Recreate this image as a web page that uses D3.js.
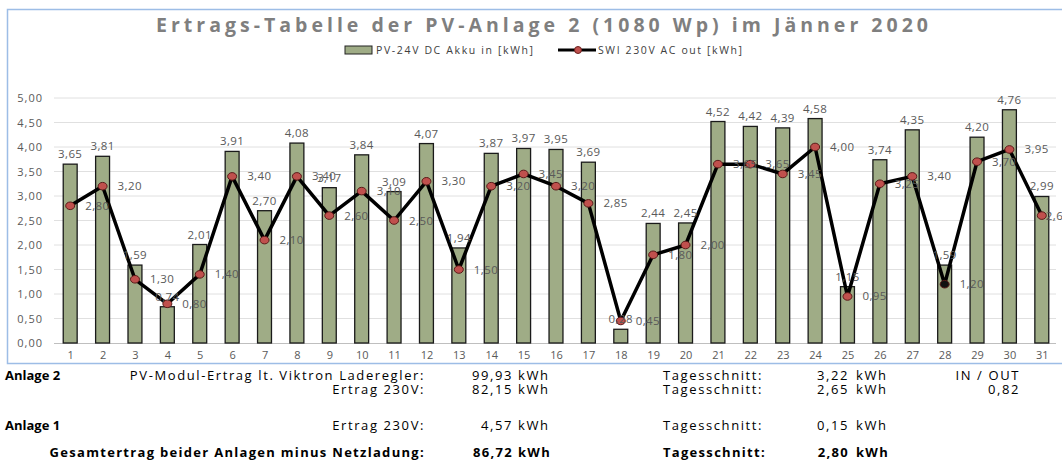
<!DOCTYPE html>
<html>
<head>
<meta charset="utf-8">
<script src="https://cdn.jsdelivr.net/npm/d3@7"></script>
<style>
  body { margin: 0; background: #fff; }
  svg { display: block; font-family: "Open Sans", sans-serif; }
</style>
</head>
<body>
<script>
// Tage im Jänner
const days = d3.range(1, 32);
// PV-24V DC Akku in [kWh]
const dcIn = [3.65, 3.81, 1.59, 0.74, 2.01, 3.91, 2.70, 4.08, 3.17, 3.84, 3.09, 4.07, 1.94, 3.87, 3.97, 3.95,
  3.69, 0.28, 2.44, 2.45, 4.52, 4.42, 4.39, 4.58, 1.15, 3.74, 4.35, 1.59, 4.20, 4.76, 2.99];
// SWI 230V AC out [kWh]
const acOut = [2.80, 3.20, 1.30, 0.80, 1.40, 3.40, 2.10, 3.40, 2.60, 3.10, 2.50, 3.30, 1.50, 3.20, 3.45, 3.20,
  2.85, 0.45, 1.80, 2.00, 3.65, 3.65, 3.45, 4.00, 0.95, 3.25, 3.40, 1.20, 3.70, 3.95, 2.60];
const yTicks = [0, 0.5, 1, 1.5, 2, 2.5, 3, 3.5, 4, 4.5, 5];
const seriesNames = ["PV-24V DC Akku in [kWh]", "SWI 230V AC out [kWh]"];
const title = "Ertrags-Tabelle der PV-Anlage 2 (1080 Wp) im Jänner 2020";

// Tabelle unter dem Diagramm
const tableRows = [
  { head: "Anlage 2", label: "PV-Modul-Ertrag lt. Viktron Laderegler:", value: "99,93", avg: "3,22", extra: "IN / OUT", bold: false },
  { head: "", label: "Ertrag 230V:", value: "82,15", avg: "2,65", extra: "0,82", bold: false },
  { head: "Anlage 1", label: "Ertrag 230V:", value: "4,57", avg: "0,15", extra: "", bold: false },
  { head: "", label: "Gesamtertrag beider Anlagen minus Netzladung:", value: "86,72", avg: "2,80", extra: "", bold: true }
];
const rowY = [375, 389, 425, 452];
const darkMarkerDay = 28;

const W = 1062, H = 461;
const de = d3.formatLocale({ decimal: ",", thousands: ".", grouping: [3], currency: ["", " €"] });
const fmt = de.format(".2f");

const svg = d3.select("body").append("svg")
  .attr("width", W)
  .attr("height", H);

svg.append("rect")
  .attr("x", 7.5).attr("y", 9.5)
  .attr("width", 1070).attr("height", 354)
  .attr("fill", "none")
  .attr("stroke", "#9dbde6")
  .attr("stroke-width", 1.5);

svg.append("text")
  .attr("x", 542).attr("y", 32)
  .attr("text-anchor", "middle")
  .attr("font-size", 19.5)
  .attr("font-weight", "bold")
  .attr("textLength", 772)
  .attr("lengthAdjust", "spacing")
  .attr("fill", "#7f7f7f")
  .text(title);

// legend
const legend = svg.append("g").attr("font-size", 10.5).attr("fill", "#404040");
legend.append("rect")
  .attr("x", 345).attr("y", 46).attr("width", 27).attr("height", 8)
  .attr("fill", "#9fac86").attr("stroke", "#222").attr("stroke-width", 1);
legend.append("text").attr("x", 376).attr("y", 54)
  .attr("textLength", 157).attr("lengthAdjust", "spacing").text(seriesNames[0]);
legend.append("line")
  .attr("x1", 558).attr("x2", 596).attr("y1", 50).attr("y2", 50)
  .attr("stroke", "#000").attr("stroke-width", 3);
legend.append("circle")
  .attr("cx", 578).attr("cy", 50).attr("r", 3.5)
  .attr("fill", "#c0504d").attr("stroke", "#6b1f1d");
legend.append("text").attr("x", 598).attr("y", 54)
  .attr("textLength", 144).attr("lengthAdjust", "spacing").text(seriesNames[1]);

// scales
const x = d3.scalePoint()
  .domain(days)
  .range([54, 1058])
  .padding(0.5);
const barW = x.step() * 0.43;

const y = d3.scaleLinear()
  .domain([0, 5])
  .range([343, 98]);

const grid = svg.append("g");
grid.selectAll("line")
  .data(yTicks.slice(1))
  .join("line")
  .attr("x1", 54).attr("x2", 1056)
  .attr("y1", d => y(d)).attr("y2", d => y(d))
  .attr("stroke", "#e0e0e0");

const yAxis = svg.append("g")
  .attr("transform", "translate(43,0)")
  .call(d3.axisLeft(y).tickValues(yTicks).tickFormat(fmt).tickSize(0).tickPadding(0));
yAxis.select(".domain").remove();
yAxis.selectAll("text").attr("font-size", 11).attr("fill", "#595959")
  .attr("font-family", "Open Sans").attr("letter-spacing", 1);

const xAxis = svg.append("g")
  .attr("transform", "translate(0,343)")
  .call(d3.axisBottom(x).tickSize(0).tickPadding(8));
xAxis.select(".domain").attr("stroke", "#bfbfbf").attr("d", "M54,0.5H1056");
xAxis.selectAll("text").attr("font-size", 11).attr("fill", "#595959").attr("font-family", "Open Sans");

// bars
svg.append("g").selectAll("rect")
  .data(dcIn)
  .join("rect")
  .attr("x", (d, i) => x(days[i]) - barW / 2)
  .attr("y", d => y(d))
  .attr("width", barW)
  .attr("height", d => y(0) - y(d))
  .attr("fill", "#9fac86")
  .attr("stroke", "#1a1a1a")
  .attr("stroke-width", 1.3);

// line
const line = d3.line()
  .x((d, i) => x(days[i]))
  .y(d => y(d));

svg.append("path")
  .datum(acOut)
  .attr("fill", "none")
  .attr("stroke", "#000")
  .attr("stroke-width", 3.5)
  .attr("stroke-linejoin", "round")
  .attr("d", line);

svg.append("g").selectAll("ellipse")
  .data(acOut)
  .join("ellipse")
  .attr("cx", (d, i) => x(days[i]))
  .attr("cy", d => y(d))
  .attr("rx", 4.5).attr("ry", 3.8)
  .attr("fill", (d, i) => days[i] === darkMarkerDay ? "#111" : "#c0504d")
  .attr("stroke", "#5a1a18")
  .attr("stroke-width", 1);

// data labels
const labels = svg.append("g").attr("font-size", 11.5).attr("fill", "#595959").attr("letter-spacing", 0.4);
labels.selectAll(".bar-lbl")
  .data(dcIn)
  .join("text")
  .attr("class", "bar-lbl")
  .attr("x", (d, i) => x(days[i]))
  .attr("y", d => y(d) - 6)
  .attr("text-anchor", "middle")
  .text(d => fmt(d));

// last label sits tighter to its point, as Excel squeezed it at the edge
labels.selectAll(".line-lbl")
  .data(acOut)
  .join("text")
  .attr("class", "line-lbl")
  .attr("x", (d, i) => x(days[i]) + (i === acOut.length - 1 ? 4 : 15))
  .attr("y", d => y(d) + 4)
  .text(d => fmt(d));

// table
const table = svg.append("g").attr("font-size", 13).attr("fill", "#000");
tableRows.forEach((r, i) => {
  const g = table.append("g")
    .attr("font-weight", r.bold ? "bold" : "normal")
    .attr("letter-spacing", r.bold ? 1.3 : 1.6);
  const yy = rowY[i] + 5;
  if (r.head) {
    table.append("text").attr("x", 5).attr("y", yy).attr("font-weight", "bold").text(r.head);
  }
  g.append("text").attr("x", 425).attr("y", yy).attr("text-anchor", "end").text(r.label);
  g.append("text").attr("x", 513).attr("y", yy).attr("text-anchor", "end").text(r.value);
  g.append("text").attr("x", 518).attr("y", yy).text("kWh");
  g.append("text").attr("x", 663).attr("y", yy).text("Tagesschnitt:");
  g.append("text").attr("x", 849).attr("y", yy).attr("text-anchor", "end").text(r.avg);
  g.append("text").attr("x", 856).attr("y", yy).text("kWh");
  if (r.extra) {
    g.append("text").attr("x", 1020).attr("y", yy).attr("text-anchor", "end").text(r.extra);
  }
});
</script>
</body>
</html>
